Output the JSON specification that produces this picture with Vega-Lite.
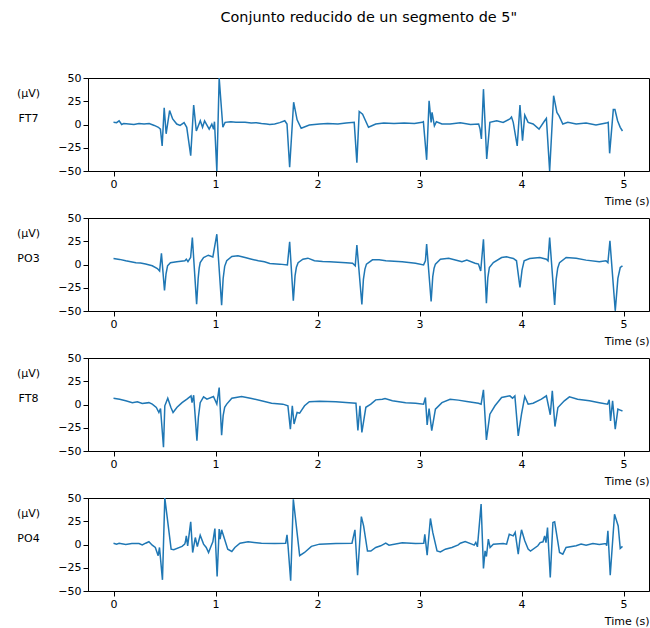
{
"$schema": "https://vega.github.io/schema/vega-lite/v6.json",
"padding": {"left": 15, "top": 10, "right": 2, "bottom": 3},
"title": {"text": "Conjunto reducido de un segmento de 5\"", "fontSize": 14.4, "fontWeight": "normal", "font": "DejaVu Sans", "offset": 46, "anchor": "middle", "dx": 36, "color": "black"},
"datasets": {
"FT7": [{"t":0,"v":2.3},{"t":0.03,"v":2},{"t":0.055,"v":4},{"t":0.08,"v":0},{"t":0.1,"v":1},{"t":0.15,"v":0.5},{"t":0.2,"v":0},{"t":0.25,"v":1},{"t":0.3,"v":0.5},{"t":0.35,"v":1},{"t":0.4,"v":-1},{"t":0.44,"v":-3},{"t":0.46,"v":-5},{"t":0.477,"v":-23},{"t":0.497,"v":18},{"t":0.516,"v":-10},{"t":0.55,"v":15},{"t":0.58,"v":6},{"t":0.62,"v":0.5},{"t":0.653,"v":-1},{"t":0.692,"v":2},{"t":0.718,"v":-3},{"t":0.757,"v":-33.5},{"t":0.786,"v":21},{"t":0.812,"v":-7},{"t":0.851,"v":4},{"t":0.873,"v":-3},{"t":0.893,"v":4},{"t":0.938,"v":-5},{"t":0.964,"v":0.5},{"t":0.981,"v":-5},{"t":0.99,"v":3},{"t":1.013,"v":-50},{"t":1.036,"v":50},{"t":1.072,"v":-3},{"t":1.094,"v":2.3},{"t":1.15,"v":3},{"t":1.2,"v":2.5},{"t":1.29,"v":2.5},{"t":1.35,"v":1.5},{"t":1.4,"v":2},{"t":1.45,"v":1},{"t":1.5,"v":0.5},{"t":1.532,"v":0},{"t":1.58,"v":0.5},{"t":1.63,"v":2},{"t":1.679,"v":4},{"t":1.701,"v":0.5},{"t":1.727,"v":-46},{"t":1.766,"v":24},{"t":1.8,"v":5},{"t":1.84,"v":-4},{"t":1.92,"v":-0.5},{"t":2.02,"v":0.5},{"t":2.1,"v":1},{"t":2.2,"v":0.5},{"t":2.28,"v":1.5},{"t":2.36,"v":2.3},{"t":2.386,"v":-41},{"t":2.409,"v":14},{"t":2.442,"v":11},{"t":2.5,"v":-3},{"t":2.571,"v":0.5},{"t":2.65,"v":1.5},{"t":2.75,"v":1},{"t":2.85,"v":1.5},{"t":2.95,"v":1},{"t":3.026,"v":2.3},{"t":3.038,"v":3},{"t":3.07,"v":-38},{"t":3.094,"v":25.5},{"t":3.114,"v":2.3},{"t":3.123,"v":13},{"t":3.146,"v":-1.5},{"t":3.166,"v":3},{"t":3.22,"v":0.5},{"t":3.3,"v":0.5},{"t":3.4,"v":2},{"t":3.5,"v":0},{"t":3.58,"v":0.5},{"t":3.594,"v":-5},{"t":3.607,"v":-15.5},{"t":3.627,"v":38},{"t":3.659,"v":-37},{"t":3.69,"v":2.3},{"t":3.757,"v":4},{"t":3.82,"v":2.3},{"t":3.886,"v":6},{"t":3.902,"v":8},{"t":3.919,"v":2.3},{"t":3.958,"v":-23},{"t":3.985,"v":21},{"t":4.01,"v":-17.5},{"t":4.032,"v":10},{"t":4.065,"v":2.3},{"t":4.114,"v":0.5},{"t":4.172,"v":-5},{"t":4.227,"v":4},{"t":4.244,"v":6.5},{"t":4.276,"v":-50},{"t":4.315,"v":31},{"t":4.347,"v":13},{"t":4.367,"v":9.5},{"t":4.405,"v":0.5},{"t":4.454,"v":2.3},{"t":4.536,"v":0.5},{"t":4.633,"v":1.5},{"t":4.73,"v":-0.5},{"t":4.83,"v":1.5},{"t":4.85,"v":2.3},{"t":4.864,"v":-31},{"t":4.9,"v":16},{"t":4.916,"v":16},{"t":4.942,"v":4},{"t":4.968,"v":-3},{"t":4.99,"v":-7}],
"PO3": [{"t":0,"v":6.5},{"t":0.06,"v":5.5},{"t":0.12,"v":4},{"t":0.17,"v":3},{"t":0.22,"v":2},{"t":0.265,"v":1.5},{"t":0.315,"v":0.5},{"t":0.38,"v":-1.4},{"t":0.43,"v":-4.3},{"t":0.452,"v":-7},{"t":0.47,"v":12},{"t":0.5,"v":-28},{"t":0.515,"v":-10},{"t":0.53,"v":-1.4},{"t":0.558,"v":2},{"t":0.62,"v":3},{"t":0.7,"v":4},{"t":0.714,"v":5.7},{"t":0.73,"v":3},{"t":0.756,"v":7.5},{"t":0.773,"v":29},{"t":0.815,"v":-42.6},{"t":0.83,"v":-15},{"t":0.84,"v":-4},{"t":0.85,"v":2},{"t":0.883,"v":7.5},{"t":0.93,"v":10},{"t":0.974,"v":8},{"t":1.013,"v":32.6},{"t":1.06,"v":-43.7},{"t":1.075,"v":-15},{"t":1.09,"v":-2},{"t":1.11,"v":4},{"t":1.16,"v":8.6},{"t":1.22,"v":9.3},{"t":1.29,"v":7.5},{"t":1.354,"v":5.7},{"t":1.42,"v":4},{"t":1.48,"v":2.9},{"t":1.532,"v":1},{"t":1.63,"v":0.4},{"t":1.705,"v":-0.4},{"t":1.727,"v":24.4},{"t":1.763,"v":-39},{"t":1.78,"v":-12},{"t":1.793,"v":-3},{"t":1.81,"v":2},{"t":1.857,"v":5.7},{"t":1.906,"v":6.8},{"t":1.97,"v":4},{"t":2.05,"v":3.2},{"t":2.12,"v":3},{"t":2.2,"v":2.5},{"t":2.28,"v":2},{"t":2.344,"v":1.4},{"t":2.37,"v":-1.4},{"t":2.386,"v":20.8},{"t":2.435,"v":-43},{"t":2.45,"v":-16},{"t":2.465,"v":-5},{"t":2.48,"v":0.4},{"t":2.539,"v":5},{"t":2.604,"v":5},{"t":2.67,"v":4},{"t":2.75,"v":3.5},{"t":2.83,"v":3},{"t":2.961,"v":1.4},{"t":3.04,"v":-0.4},{"t":3.058,"v":4},{"t":3.07,"v":21.9},{"t":3.114,"v":-39.8},{"t":3.13,"v":-13},{"t":3.143,"v":-4},{"t":3.156,"v":0.4},{"t":3.205,"v":5.7},{"t":3.286,"v":6.8},{"t":3.38,"v":4},{"t":3.416,"v":2.9},{"t":3.464,"v":4.7},{"t":3.545,"v":1.4},{"t":3.578,"v":0.4},{"t":3.6,"v":-7},{"t":3.627,"v":27},{"t":3.656,"v":-41.6},{"t":3.67,"v":-14},{"t":3.685,"v":-3.2},{"t":3.724,"v":2},{"t":3.805,"v":7.5},{"t":3.854,"v":8.2},{"t":3.92,"v":6.5},{"t":3.951,"v":4},{"t":3.985,"v":-24.7},{"t":4.005,"v":-6},{"t":4.026,"v":4},{"t":4.08,"v":6.5},{"t":4.18,"v":7.5},{"t":4.244,"v":5.7},{"t":4.26,"v":4},{"t":4.276,"v":29},{"t":4.325,"v":-43.4},{"t":4.34,"v":-16},{"t":4.355,"v":-4},{"t":4.373,"v":2},{"t":4.438,"v":7.5},{"t":4.536,"v":6.8},{"t":4.633,"v":4.7},{"t":4.763,"v":2.9},{"t":4.828,"v":4},{"t":4.847,"v":2},{"t":4.867,"v":25.4},{"t":4.919,"v":-49.8},{"t":4.945,"v":-15},{"t":4.968,"v":-3.2},{"t":4.99,"v":-1.4}],
"FT8": [{"t":0,"v":6.8},{"t":0.06,"v":5.7},{"t":0.12,"v":4},{"t":0.185,"v":2},{"t":0.234,"v":2.9},{"t":0.282,"v":1},{"t":0.347,"v":2},{"t":0.38,"v":0.4},{"t":0.42,"v":-3.2},{"t":0.445,"v":-8.6},{"t":0.461,"v":-4.3},{"t":0.49,"v":-46},{"t":0.503,"v":-1.4},{"t":0.513,"v":1.4},{"t":0.532,"v":6.8},{"t":0.562,"v":-3},{"t":0.584,"v":-8.6},{"t":0.623,"v":-3},{"t":0.672,"v":2},{"t":0.72,"v":5.7},{"t":0.76,"v":9.3},{"t":0.77,"v":2},{"t":0.786,"v":10},{"t":0.818,"v":-39},{"t":0.832,"v":-14},{"t":0.85,"v":2},{"t":0.883,"v":8.2},{"t":0.916,"v":5.7},{"t":0.98,"v":8.6},{"t":1.013,"v":0.4},{"t":1.036,"v":18.3},{"t":1.06,"v":-33},{"t":1.075,"v":-12},{"t":1.09,"v":-3},{"t":1.11,"v":0.4},{"t":1.16,"v":6.8},{"t":1.256,"v":8.6},{"t":1.354,"v":6.5},{"t":1.45,"v":4},{"t":1.55,"v":1.4},{"t":1.66,"v":0.4},{"t":1.71,"v":-1.4},{"t":1.734,"v":-26.5},{"t":1.753,"v":-1.4},{"t":1.77,"v":-21},{"t":1.8,"v":-8.6},{"t":1.825,"v":-9.3},{"t":1.873,"v":-1.4},{"t":1.92,"v":3},{"t":2.02,"v":3.6},{"t":2.18,"v":2.9},{"t":2.31,"v":2},{"t":2.377,"v":1.4},{"t":2.396,"v":-28},{"t":2.416,"v":-1.4},{"t":2.435,"v":-30},{"t":2.474,"v":-3},{"t":2.523,"v":0.4},{"t":2.571,"v":5},{"t":2.636,"v":5.7},{"t":2.662,"v":6.5},{"t":2.734,"v":4},{"t":2.864,"v":2},{"t":2.961,"v":1.4},{"t":3.04,"v":0.4},{"t":3.058,"v":7.5},{"t":3.075,"v":-22},{"t":3.094,"v":-4.3},{"t":3.12,"v":-28},{"t":3.156,"v":-5},{"t":3.22,"v":2},{"t":3.3,"v":5.7},{"t":3.38,"v":4.7},{"t":3.464,"v":3.2},{"t":3.578,"v":1.4},{"t":3.604,"v":0.4},{"t":3.627,"v":15.8},{"t":3.656,"v":-38},{"t":3.69,"v":-10.4},{"t":3.74,"v":-1.4},{"t":3.805,"v":7.5},{"t":3.886,"v":9.3},{"t":3.912,"v":6.8},{"t":3.935,"v":9.3},{"t":3.968,"v":-33.7},{"t":4.0,"v":-10.4},{"t":4.032,"v":8.6},{"t":4.065,"v":0.4},{"t":4.114,"v":1.4},{"t":4.195,"v":5.7},{"t":4.244,"v":9.3},{"t":4.282,"v":-11},{"t":4.302,"v":14.7},{"t":4.328,"v":-23.7},{"t":4.357,"v":-3.2},{"t":4.42,"v":4},{"t":4.47,"v":8.2},{"t":4.55,"v":5.7},{"t":4.666,"v":4},{"t":4.763,"v":2},{"t":4.844,"v":0.4},{"t":4.86,"v":5},{"t":4.873,"v":-17.6},{"t":4.893,"v":4},{"t":4.919,"v":-26.5},{"t":4.945,"v":-5},{"t":4.968,"v":-6},{"t":4.99,"v":-7}],
"PO4": [{"t":0,"v":1.4},{"t":0.03,"v":0.4},{"t":0.055,"v":1.4},{"t":0.12,"v":0},{"t":0.18,"v":1},{"t":0.25,"v":1.1},{"t":0.282,"v":-0.4},{"t":0.315,"v":1.4},{"t":0.347,"v":3},{"t":0.38,"v":-0.7},{"t":0.41,"v":-3.2},{"t":0.438,"v":-12},{"t":0.451,"v":-3.2},{"t":0.48,"v":-38},{"t":0.503,"v":50},{"t":0.565,"v":-5},{"t":0.591,"v":-5.7},{"t":0.672,"v":-2},{"t":0.698,"v":0.4},{"t":0.705,"v":2.9},{"t":0.714,"v":9.3},{"t":0.727,"v":-1.4},{"t":0.757,"v":24.4},{"t":0.776,"v":-8.6},{"t":0.802,"v":7.5},{"t":0.822,"v":-2.2},{"t":0.85,"v":10},{"t":0.883,"v":0.4},{"t":0.909,"v":-3.2},{"t":0.932,"v":-8.6},{"t":0.958,"v":-1.4},{"t":0.974,"v":2.9},{"t":0.994,"v":17.2},{"t":1.016,"v":-34.4},{"t":1.036,"v":16.5},{"t":1.045,"v":5.7},{"t":1.06,"v":15.8},{"t":1.12,"v":-5},{"t":1.16,"v":-7.5},{"t":1.19,"v":-3.2},{"t":1.24,"v":1.4},{"t":1.32,"v":2.9},{"t":1.45,"v":1.4},{"t":1.58,"v":1.1},{"t":1.688,"v":1.4},{"t":1.701,"v":10.4},{"t":1.711,"v":-1.4},{"t":1.737,"v":-39},{"t":1.763,"v":48.7},{"t":1.825,"v":-12},{"t":1.873,"v":-8.6},{"t":1.94,"v":-2},{"t":2.02,"v":0.4},{"t":2.18,"v":1.1},{"t":2.338,"v":1.4},{"t":2.367,"v":15.8},{"t":2.393,"v":-33},{"t":2.43,"v":30},{"t":2.452,"v":20},{"t":2.49,"v":-7},{"t":2.523,"v":-7},{"t":2.571,"v":-3.2},{"t":2.62,"v":-1.4},{"t":2.669,"v":1.4},{"t":2.701,"v":-0.7},{"t":2.831,"v":2},{"t":2.961,"v":1.1},{"t":3.042,"v":1.4},{"t":3.052,"v":11},{"t":3.075,"v":-11.5},{"t":3.107,"v":28},{"t":3.13,"v":13},{"t":3.172,"v":-7},{"t":3.205,"v":-8},{"t":3.253,"v":-5},{"t":3.318,"v":-3.2},{"t":3.38,"v":-0.4},{"t":3.4,"v":1.4},{"t":3.448,"v":3.2},{"t":3.513,"v":0.4},{"t":3.536,"v":-0.7},{"t":3.552,"v":2.2},{"t":3.568,"v":-2.5},{"t":3.604,"v":43.4},{"t":3.627,"v":-25.8},{"t":3.643,"v":-6.8},{"t":3.656,"v":-12.9},{"t":3.675,"v":5.7},{"t":3.692,"v":-3.2},{"t":3.724,"v":0.4},{"t":3.82,"v":1.1},{"t":3.854,"v":0.4},{"t":3.88,"v":11},{"t":3.919,"v":9.3},{"t":3.938,"v":13},{"t":3.968,"v":-10.4},{"t":3.985,"v":5.7},{"t":4.0,"v":15.8},{"t":4.032,"v":4},{"t":4.065,"v":-5},{"t":4.088,"v":-7},{"t":4.16,"v":-1.4},{"t":4.183,"v":2},{"t":4.211,"v":2.9},{"t":4.227,"v":9.3},{"t":4.24,"v":2},{"t":4.255,"v":18.3},{"t":4.282,"v":-35.5},{"t":4.308,"v":23.7},{"t":4.325,"v":24.4},{"t":4.347,"v":9.3},{"t":4.373,"v":-8.6},{"t":4.405,"v":-10.4},{"t":4.437,"v":-3.2},{"t":4.536,"v":-1.4},{"t":4.584,"v":0.4},{"t":4.633,"v":-0.7},{"t":4.7,"v":1.1},{"t":4.763,"v":0},{"t":4.828,"v":1.1},{"t":4.835,"v":-1.4},{"t":4.847,"v":14.7},{"t":4.87,"v":-33},{"t":4.912,"v":32.6},{"t":4.925,"v":28},{"t":4.948,"v":20},{"t":4.968,"v":-4.3},{"t":4.99,"v":-2}]
},
"spacing": 47,
"bounds": "flush",
"vconcat": [
{"width": 561, "height": 93, "data": {"name": "FT7"}, "mark": {"type": "line", "color": "#1f77b4", "strokeWidth": 1.5, "clip": true},
 "encoding": {"x": {"field": "t", "type": "quantitative", "scale": {"domain": [-0.25, 5.25], "nice": false, "zero": false}, "axis": {"values": [0,1,2,3,4,5], "format": "d", "title": "Time (s)", "titleAnchor": "end"}},
 "y": {"field": "v", "type": "quantitative", "scale": {"domain": [-50, 50], "nice": false}, "axis": {"values": [-50,-25,0,25,50], "title": ["(μV)", "FT7"], "titleAngle": 0, "titleX": -60, "titleY": 18, "titleAlign": "center", "titleBaseline": "alphabetic", "titleLineHeight": 25}}}},
{"width": 561, "height": 93, "data": {"name": "PO3"}, "mark": {"type": "line", "color": "#1f77b4", "strokeWidth": 1.5, "clip": true},
 "encoding": {"x": {"field": "t", "type": "quantitative", "scale": {"domain": [-0.25, 5.25], "nice": false, "zero": false}, "axis": {"values": [0,1,2,3,4,5], "format": "d", "title": "Time (s)", "titleAnchor": "end"}},
 "y": {"field": "v", "type": "quantitative", "scale": {"domain": [-50, 50], "nice": false}, "axis": {"values": [-50,-25,0,25,50], "title": ["(μV)", "PO3"], "titleAngle": 0, "titleX": -60, "titleY": 18, "titleAlign": "center", "titleBaseline": "alphabetic", "titleLineHeight": 25}}}},
{"width": 561, "height": 93, "data": {"name": "FT8"}, "mark": {"type": "line", "color": "#1f77b4", "strokeWidth": 1.5, "clip": true},
 "encoding": {"x": {"field": "t", "type": "quantitative", "scale": {"domain": [-0.25, 5.25], "nice": false, "zero": false}, "axis": {"values": [0,1,2,3,4,5], "format": "d", "title": "Time (s)", "titleAnchor": "end"}},
 "y": {"field": "v", "type": "quantitative", "scale": {"domain": [-50, 50], "nice": false}, "axis": {"values": [-50,-25,0,25,50], "title": ["(μV)", "FT8"], "titleAngle": 0, "titleX": -60, "titleY": 18, "titleAlign": "center", "titleBaseline": "alphabetic", "titleLineHeight": 25}}}},
{"width": 561, "height": 93, "data": {"name": "PO4"}, "mark": {"type": "line", "color": "#1f77b4", "strokeWidth": 1.5, "clip": true},
 "encoding": {"x": {"field": "t", "type": "quantitative", "scale": {"domain": [-0.25, 5.25], "nice": false, "zero": false}, "axis": {"values": [0,1,2,3,4,5], "format": "d", "title": "Time (s)", "titleAnchor": "end"}},
 "y": {"field": "v", "type": "quantitative", "scale": {"domain": [-50, 50], "nice": false}, "axis": {"values": [-50,-25,0,25,50], "title": ["(μV)", "PO4"], "titleAngle": 0, "titleX": -60, "titleY": 18, "titleAlign": "center", "titleBaseline": "alphabetic", "titleLineHeight": 25}}}}
],
"config": {
 "font": "DejaVu Sans",
 "view": {"stroke": "black", "strokeWidth": 1},
 "axis": {"grid": false, "domainColor": "black", "tickColor": "black", "tickSize": 5, "labelColor": "black", "labelFont": "DejaVu Sans", "labelFontSize": 11, "labelPadding": 2, "titleFont": "DejaVu Sans", "titleFontSize": 11, "titleFontWeight": "normal", "titleColor": "black", "titlePadding": 6}
}
}
